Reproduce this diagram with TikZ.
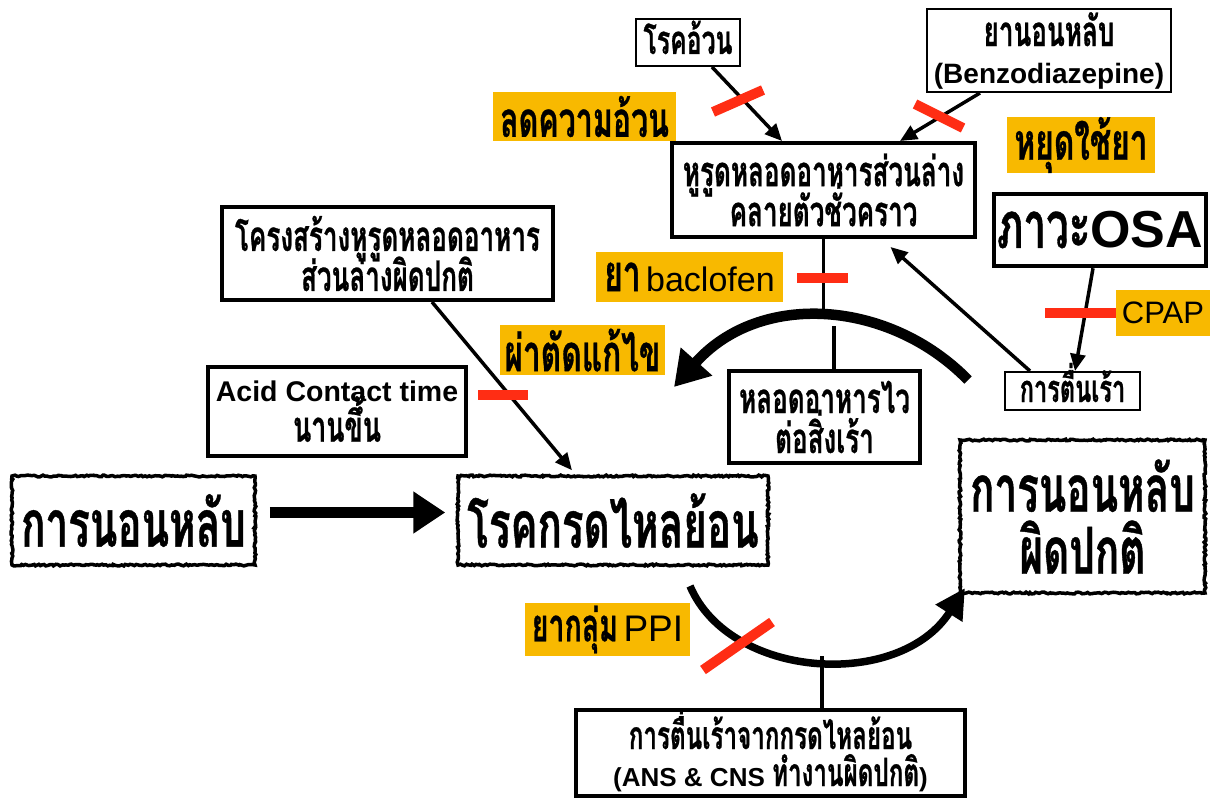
\documentclass[tikz,border=0pt]{standalone}
\usepackage{fontspec}
\setmainfont{Liberation Sans}
\newfontfamily\thai[Script=Thai,FakeStretch=0.62,BoldFeatures={FakeBold=0.6}]{Loma}
\usetikzlibrary{arrows.meta,decorations.pathmorphing,calc}
\definecolor{orng}{RGB}{248,185,0}
\definecolor{barred}{RGB}{255,45,20}
\newcommand\fs[2]{\fontsize{#1}{#2}\selectfont}
\begin{document}
\begin{tikzpicture}[x=1pt,y=-1pt,
  nf/.style={font={\fontsize{20}{#1}\selectfont\lineskiplimit=-500pt\relax}},
  bx/.style n args={3}{draw, line width=#3, minimum width=#1, minimum height=#2, inner sep=0pt, align=center, fill=white},
  rough/.style n args={2}{draw, line width=3.5, minimum width=#1, minimum height=#2, inner sep=0pt, align=center, decorate, decoration={random steps,segment length=2pt,amplitude=0.9pt}},
  lab/.style n args={2}{fill=orng, minimum width=#1, minimum height=#2, inner sep=0pt, align=center},
  conn/.style={line width=3.5, -{Triangle[length=17pt,width=15pt]}},
  plain/.style={line width=3.5},
  redbar/.style={draw=barred, line width=10},
]
\pgfmathsetseed{7}
\useasboundingbox (0,0) rectangle (1210,800);
\fill[white] (0,0) rectangle (1210,800);

% boxes
\node[bx={104}{47}{2}, nf=40, text height=23, text depth=0] (obese) at (688,42.5) {\thai\bfseries\fs{40}{40}โรคอ้วน};
\node[bx={244}{83}{2}, nf=37] (benzo) at (1049,50.5) {{\thai\bfseries\fs{42}{37}ยานอนหลับ}\\{\bfseries\fs{28}{37}(Benzodiazepine)}};
\node[bx={303}{94}{4}, nf=40] (les) at (823.5,190) {{\thai\bfseries\fs{42}{40}หูรูดหลอดอาหารส่วนล่าง}\\{\thai\bfseries\fs{42}{40}คลายตัวชั่วคราว}};
\node[bx={212}{72}{4.5}, nf=60] (osa) at (1100,230) {{\thai\bfseries\fs{65}{60}ภาวะ}{\bfseries\fs{52}{60}OSA}};
\node[bx={331}{93}{4}, nf=40] (struct) at (387.5,253.5) {{\thai\bfseries\fs{42}{40}โครงสร้างหูรูดหลอดอาหาร}\\{\thai\bfseries\fs{42}{40}ส่วนล่างผิดปกติ}};
\node[bx={258}{89}{4.5}, nf=40] (acid) at (337,411.5) {{\bfseries\fs{28.5}{40}Acid Contact time}\\{\thai\bfseries\fs{43}{40}นานขึ้น}};
\node[bx={191}{92}{3.5}, nf=40] (hyper) at (824.5,417) {{\thai\bfseries\fs{42}{40}หลอดอาหารไว}\\{\thai\bfseries\fs{42}{40}ต่อสิ่งเร้า}};
\node[bx={135}{38}{2}, nf=38, text height=22, text depth=0] (arousal) at (1072.5,391) {\thai\bfseries\fs{38}{38}การตื่นเร้า};
\node[rough={245}{153}, nf=62] (sleepdis) at (1082.5,516.5) {{\thai\bfseries\fs{65}{62}การนอนหลับ}\\{\thai\bfseries\fs{65}{62}ผิดปกติ}};
\node[rough={243}{89}, nf=60] (sleep) at (133.5,520.5) {\thai\bfseries\fs{65}{60}การนอนหลับ};
\node[rough={310}{89}, nf=60] (gerd) at (613,520.5) {\thai\bfseries\fs{65}{60}โรคกรดไหลย้อน};
\node[bx={389}{86}{4}, nf=37, text height=66, text depth=0] (acidar) at (770.5,753) {{\thai\bfseries\fs{39}{37}การตื่นเร้าจากกรดไหลย้อน}\\{\bfseries\fs{26}{37}(ANS \& CNS {\thai\fs{39}{37}ทำงานผิดปกติ})}};

% orange labels
\node[lab={183}{49}, nf=49] (lose) at (584.5,116.5) {\thai\bfseries\fs{49}{49}ลดความอ้วน};
\node[lab={148}{46}, nf=46] (stop) at (1081,145) {\thai\bfseries\fs{51}{46}หยุดใช้ยา};
\node[lab={187}{50}, nf=50] (bacl) at (689.5,277) {{\thai\bfseries\fs{51}{50}ยา} {\fs{34}{50}baclofen}};
\node[lab={94}{46}, nf=46] (cpap) at (1163,313) {\fs{31}{46}CPAP};
\node[lab={165}{50}, nf=50] (surg) at (582.5,350) {\thai\bfseries\fs{51}{50}ผ่าตัดแก้ไข};
\node[lab={165}{53}, nf=53] (ppi) at (607.5,629.5) {{\thai\bfseries\fs{46}{53}ยากลุ่ม} {\fs{37}{53}PPI}};

% connectors
\draw[conn] ($(obese.south)+(24,0)$) -- ($(les.north)+(-41.5,0)$);
\draw[conn] ($(benzo.south)+(-69,0)$) -- ($(les.north)+(76.5,0)$);
\draw[conn] ($(osa.south)+(-7,0)$) -- ($(arousal.north)+(2.5,0)$);
\draw[conn] ($(arousal.north)+(-42.5,0)$) -- ($(les.south)+(67,8)$);
\draw[conn] ($(struct.south)+(44.5,0)$) -- ($(gerd.north)+(-41,-4)$);
\draw[line width=11,-{Triangle[length=32pt,width=40pt]}] ($(sleep.east)+(13,-8)$) -- ($(gerd.west)+(-11,-8)$);

% upper curve
\coordinate (ctop) at (823.5,316);
\coordinate (bs) at (968,380);
\coordinate (be) at (674,387);
\draw[plain] (les.south) -- (ctop);
\draw[line width=10.5,-{Triangle[length=34pt,width=40pt]}] (bs) .. controls (890,300) and (760,290) .. (be);
\coordinate (cmid) at (834,326);
\draw[plain] ($(hyper.north)+(9.5,0)$) -- (cmid);

% lower curve
\coordinate (ls) at (690,586);
\coordinate (le) at (965,588);
\draw[line width=7.5,-{Triangle[length=30pt,width=30pt]}] (ls) .. controls (730,680) and (900,690) .. (le);
\coordinate (cbot) at (822,656);
\draw[plain] ($(acidar.north)+(51.5,0)$) -- (cbot);

% red bars
\draw[redbar] (713,112) -- (763,90);
\draw[redbar] (915,104) -- (963,128);
\draw[redbar] (797,278) -- (848,278);
\draw[redbar] (1045,313) -- (1116,313);
\draw[redbar] (478,395) -- (528,395);
\draw[redbar] (703,670) -- (772,622);
\end{tikzpicture}
\end{document}
